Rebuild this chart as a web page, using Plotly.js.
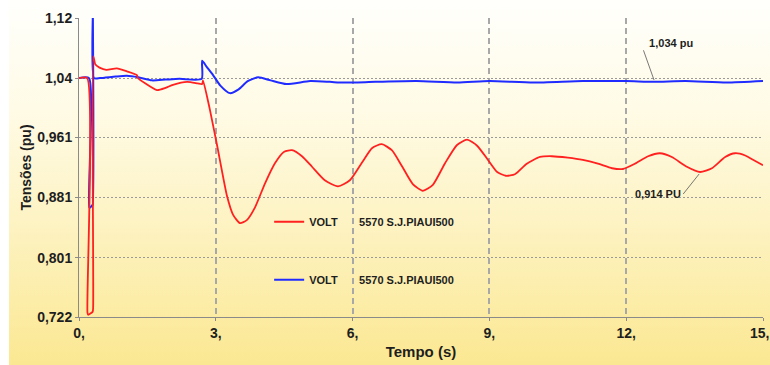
<!DOCTYPE html>
<html>
<head>
<meta charset="utf-8">
<script src="https://cdn.plot.ly/plotly-3.0.1.min.js"></script>
<style>
  html, body { margin: 0; padding: 0; background: #ffffff; }
  #wrap { position: relative; width: 770px; height: 365px; overflow: hidden; }
  #bg { position: absolute; left: 9px; top: 0; width: 761px; height: 365px;
        background: linear-gradient(to bottom, #fffffc 0%, #fffbe6 30%, #fdf3c4 60%, #fbe892 100%); }
  #chart { position: absolute; left: 0; top: 0; width: 770px; height: 365px; }
</style>
</head>
<body>
<div id="wrap"><div id="bg"></div><div id="chart"></div></div>
<script>
// ---- Data ----
const redTime = [0, 0.18, 0.185, 0.20, 0.30, 0.31, 0.315, 0.36, 0.45, 0.6, 0.83, 1.05, 1.27, 1.29, 1.45, 1.71, 1.9, 2.06, 2.37, 2.6, 2.70, 2.72, 2.87, 3.03, 3.25, 3.38, 3.53, 3.68, 3.86, 4.08, 4.30, 4.50, 4.67, 4.89, 5.11, 5.39, 5.68, 5.94, 6.21, 6.43, 6.64, 6.86, 7.08, 7.32, 7.54, 7.76, 8.03, 8.29, 8.51, 8.73, 8.97, 9.17, 9.36, 9.56, 9.82, 10.11, 10.37, 10.72, 11.05, 11.38, 11.69, 11.93, 12.19, 12.48, 12.74, 13.0, 13.33, 13.62, 13.88, 14.17, 14.39, 14.61, 14.82, 15.0];
const redVolt = [1.040, 1.040, 0.728, 0.725, 0.729, 0.735, 1.069, 1.058, 1.054, 1.051, 1.053, 1.049, 1.044, 1.040, 1.033, 1.024, 1.027, 1.031, 1.035, 1.033, 1.032, 1.037, 0.998, 0.950, 0.882, 0.858, 0.847, 0.851, 0.868, 0.900, 0.927, 0.942, 0.944, 0.936, 0.922, 0.904, 0.896, 0.904, 0.928, 0.947, 0.952, 0.944, 0.923, 0.899, 0.890, 0.898, 0.927, 0.951, 0.958, 0.950, 0.931, 0.915, 0.910, 0.912, 0.926, 0.935, 0.936, 0.934, 0.931, 0.926, 0.920, 0.919, 0.926, 0.936, 0.940, 0.935, 0.922, 0.915, 0.920, 0.935, 0.940, 0.937, 0.930, 0.924];

const blueTime = [0, 0.22, 0.225, 0.25, 0.29, 0.30, 0.305, 0.33, 0.46, 0.8, 1.05, 1.3, 1.6, 1.9, 2.2, 2.69, 2.70, 2.8, 2.94, 3.1, 3.31, 3.5, 3.7, 3.93, 4.2, 4.55, 5.07, 5.5, 5.79, 6.5, 7.4, 8.3, 9.0, 9.96, 11.05, 12.0, 12.6, 13.3, 14.2, 15.0];
const blueVolt = [1.040, 1.040, 0.868, 0.868, 0.871, 0.871, 1.130, 1.040, 1.040, 1.042, 1.043, 1.041, 1.037, 1.038, 1.039, 1.039, 1.063, 1.055, 1.044, 1.030, 1.020, 1.025, 1.036, 1.041, 1.037, 1.032, 1.036, 1.035, 1.034, 1.035, 1.036, 1.034, 1.036, 1.034, 1.036, 1.036, 1.035, 1.036, 1.034, 1.036];

const seriesNames = ["VOLT\u00a0\u00a0\u00a0\u00a0\u00a0\u00a0\u00a05570 S.J.PIAUI500", "VOLT\u00a0\u00a0\u00a0\u00a0\u00a0\u00a0\u00a05570 S.J.PIAUI500"];

const xTickVals = [0, 3, 6, 9, 12, 15];
const xTickText = ["0,", "3,", "6,", "9,", "12,", "15,"];
const yTickVals = [0.722, 0.801, 0.881, 0.961, 1.04, 1.12];
const yTickText = ["0,722", "0,801", "0,881", "0,961", "1,04", "1,12"];

const noteBlue = {text: "\u00a0\u00a01,034 pu", x: 12.61, y: 1.0375, tx: 12.32, ty: 1.087};
const noteRed = {text: "0,914 PU", x: 13.60, y: 0.9124, tx: 13.25, ty: 0.8857};

// ---- Chart ----
const FONT = "Arial, 'Liberation Sans', sans-serif";
const TXT = "#1e1e1e";
const tickFont = {family: FONT, size: 14, color: TXT, weight: "bold"};

const traces = [
  {x: blueTime, y: blueVolt, type: "scatter", mode: "lines", name: seriesNames[1],
   line: {color: "#1f2bff", width: 2, shape: "spline", smoothing: 0.6}, legendgroup: "b", legendrank: 2},
  {x: redTime, y: redVolt, type: "scatter", mode: "lines", name: seriesNames[0],
   line: {color: "#ff2020", width: 1.8, shape: "spline", smoothing: 0.6}, legendgroup: "r", legendrank: 1}
];

function note(n, anchor) {
  return {x: n.x, y: n.y, xref: "x", yref: "y", ax: n.tx, ay: n.ty, axref: "x", ayref: "y",
    text: n.text, showarrow: true, arrowhead: 0, arrowwidth: 0.8, arrowcolor: "#555",
    xanchor: anchor, yanchor: "middle", font: {family: FONT, size: 11, color: TXT, weight: "bold"}};
}

// last x tick label sits at the right edge: draw it right-aligned so it stays inside the page
const lastIdx = xTickVals.length - 1;
const shownTickText = xTickText.map((t, i) => i === lastIdx ? "" : t);
const lastTickLabel = {x: xTickVals[lastIdx], y: 0, xref: "x", yref: "paper", text: xTickText[lastIdx],
  showarrow: false, xanchor: "right", yanchor: "middle", xshift: 8, yshift: -16, font: tickFont};

const layout = {
  width: 770, height: 365,
  margin: {l: 79, r: 7, t: 18, b: 48},
  paper_bgcolor: "rgba(0,0,0,0)", plot_bgcolor: "rgba(0,0,0,0)",
  font: {family: FONT, color: TXT},
  showlegend: true,
  legend: {x: 0.278, y: 0.367, xanchor: "left", yanchor: "top", bgcolor: "rgba(0,0,0,0)",
    traceorder: "grouped", tracegroupgap: 39,
    font: {family: FONT, size: 11, color: TXT, weight: "bold"}},
  xaxis: {range: [0, 15], tickvals: xTickVals, ticktext: shownTickText,
    showgrid: true, gridcolor: "#a8a8a8", gridwidth: 2, griddash: "6px,4px",
    showline: true, linecolor: "#8a8a8a", linewidth: 1, zeroline: false,
    ticks: "outside", ticklen: 3, tickcolor: "#8a8a8a",
    tickfont: tickFont,
    title: {text: "Tempo (s)", font: {family: FONT, size: 15, color: TXT, weight: "bold"}, standoff: 6}},
  yaxis: {range: [0.722, 1.12], tickvals: yTickVals, ticktext: yTickText,
    showgrid: true, gridcolor: "#9a9a9a", gridwidth: 1, griddash: "2px,2px",
    showline: true, linecolor: "#8a8a8a", linewidth: 1, zeroline: false,
    ticks: "outside", ticklen: 3, tickcolor: "#8a8a8a",
    tickfont: tickFont,
    title: {text: "Tensões (pu)", font: {family: FONT, size: 14, color: TXT, weight: "bold"}, standoff: 2}},
  annotations: [note(noteBlue, "left"), note(noteRed, "right"), lastTickLabel]
};

Plotly.newPlot("chart", traces, layout, {displayModeBar: false, staticPlot: true});
</script>
</body>
</html>
